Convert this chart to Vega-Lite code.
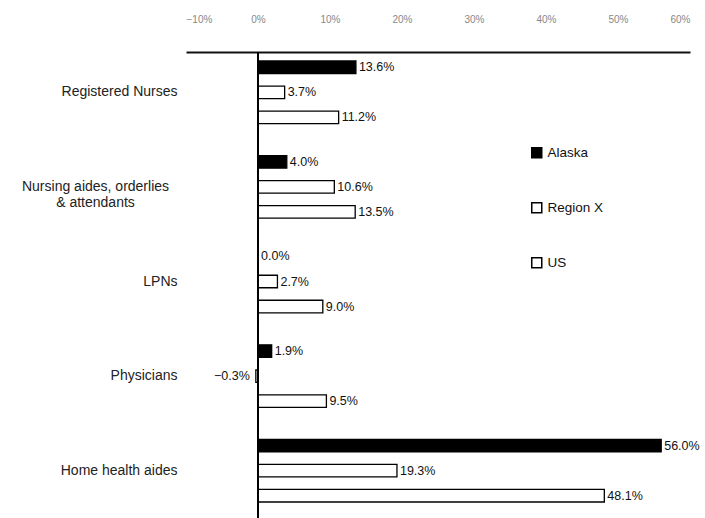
{
  "$schema": "https://vega.github.io/schema/vega-lite/v6.json",
  "autosize": "none",
  "width": 504,
  "height": 466,
  "padding": {"left": 186, "top": 52, "right": 15, "bottom": 0},
  "background": "white",
  "config": {"view": {"stroke": null}, "font": "Liberation Sans"},
  "data": {
    "values": [
      {"job": "Registered Nurses", "area": "Alaska", "change": 0.136},
      {"job": "Registered Nurses", "area": "Region X", "change": 0.037},
      {"job": "Registered Nurses", "area": "US", "change": 0.112},
      {"job": "Nursing aides, orderlies & attendants", "area": "Alaska", "change": 0.040},
      {"job": "Nursing aides, orderlies & attendants", "area": "Region X", "change": 0.106},
      {"job": "Nursing aides, orderlies & attendants", "area": "US", "change": 0.135},
      {"job": "LPNs", "area": "Alaska", "change": 0.0},
      {"job": "LPNs", "area": "Region X", "change": 0.027},
      {"job": "LPNs", "area": "US", "change": 0.090},
      {"job": "Physicians", "area": "Alaska", "change": 0.019},
      {"job": "Physicians", "area": "Region X", "change": -0.003},
      {"job": "Physicians", "area": "US", "change": 0.095},
      {"job": "Home health aides", "area": "Alaska", "change": 0.560},
      {"job": "Home health aides", "area": "Region X", "change": 0.193},
      {"job": "Home health aides", "area": "US", "change": 0.481}
    ]
  },
  "encoding": {
    "y": {
      "field": "job",
      "type": "nominal",
      "sort": null,
      "title": null,
      "scale": {"range": [-7, 466], "paddingInner": 0, "paddingOuter": 0},
      "axis": {
        "domain": false,
        "ticks": false,
        "tickSize": 0,
        "labelFont": "Liberation Sans",
        "labelFontSize": 14,
        "labelColor": "#222",
        "labelLimit": 300,
        "labelPadding": {"condition": {"test": "datum.value == 'Nursing aides, orderlies & attendants'", "value": 91}, "value": 9},
        "labelAlign": {"condition": {"test": "datum.value == 'Nursing aides, orderlies & attendants'", "value": "center"}, "value": "right"},
        "labelExpr": "datum.value == 'Nursing aides, orderlies & attendants' ? ['Nursing aides, orderlies', '& attendants'] : datum.value"
      }
    },
    "yOffset": {
      "field": "area",
      "type": "nominal",
      "sort": ["Alaska", "Region X", "US"],
      "scale": {"paddingInner": 0.5, "paddingOuter": 0.64}
    },
    "x": {
      "field": "change",
      "type": "quantitative",
      "title": null,
      "scale": {"domain": [-0.1, 0.6], "nice": false},
      "axis": {
        "orient": "top",
        "values": [-0.1, 0, 0.1, 0.2, 0.3, 0.4, 0.5, 0.6],
        "format": ".0%",
        "grid": false,
        "ticks": false,
        "domainColor": "#111",
        "domainWidth": 2,
        "labelColor": "#888",
        "labelFontSize": 10,
        "labelPadding": 28
      }
    }
  },
  "layer": [
    {
      "mark": {"type": "bar", "stroke": "black", "strokeWidth": 1.3},
      "encoding": {
        "fill": {
          "field": "area",
          "type": "nominal",
          "title": null,
          "scale": {"domain": ["Alaska", "Region X", "US"], "range": ["black", "white", "white"]},
          "legend": {
            "orient": "none",
            "legendX": 344,
            "legendY": 94,
            "symbolType": "square",
            "symbolSize": 100,
            "symbolStrokeColor": "black",
            "symbolStrokeWidth": 1.5,
            "labelFont": "Liberation Sans",
            "labelFontSize": 13.5,
            "labelColor": "#111",
            "labelOffset": 4,
            "rowPadding": 38
          }
        }
      }
    },
    {
      "transform": [{"filter": "datum.change >= 0"}],
      "mark": {"type": "text", "align": "left", "baseline": "middle", "dx": 3, "fontSize": 12.5, "color": "#111"},
      "encoding": {
        "text": {"field": "change", "type": "quantitative", "format": ".1%"}
      }
    },
    {
      "transform": [{"filter": "datum.change < 0"}],
      "mark": {"type": "text", "align": "right", "baseline": "middle", "dx": -6, "fontSize": 12.5, "color": "#111"},
      "encoding": {
        "text": {"field": "change", "type": "quantitative", "format": ".1%"}
      }
    },
    {
      "mark": {"type": "rule", "color": "black", "strokeWidth": 2},
      "encoding": {"x": {"datum": 0}, "y": null, "yOffset": null}
    }
  ]
}
